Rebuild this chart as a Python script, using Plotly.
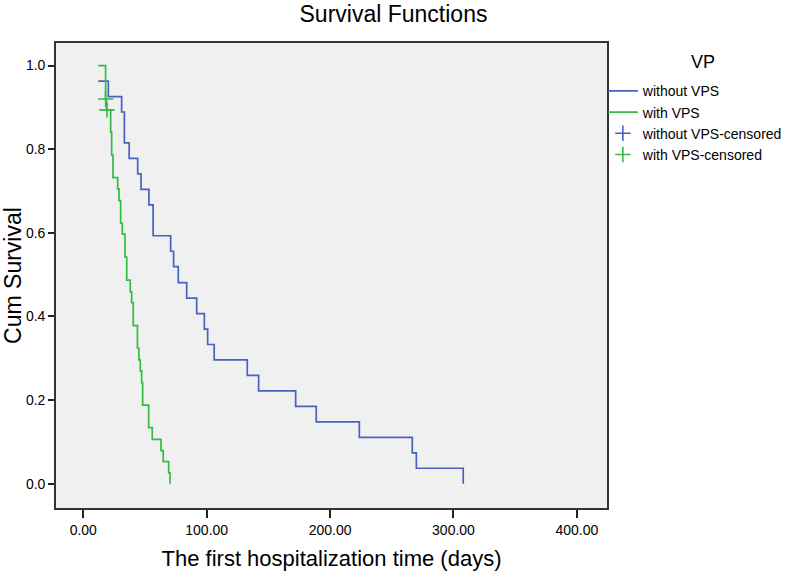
import plotly.graph_objects as go

# ---- data ----
blue_t = [12.2, 20.3, 31.1, 33.3, 37.2, 44.1, 46.8, 53.2, 56.6, 70.8, 73.2, 77.0, 83.8,
          91.9, 98.1, 100.8, 106.1, 132.9, 142.1, 172.1, 188.8, 223.7, 266.6, 269.9, 307.9]
blue_s = [0.963, 0.926, 0.889, 0.815, 0.778, 0.741, 0.704, 0.667, 0.593, 0.556, 0.519, 0.481,
          0.444, 0.407, 0.370, 0.333, 0.296, 0.259, 0.222, 0.185, 0.148, 0.111, 0.074, 0.037, 0.0]

green_t = [12.2, 18.1, 18.8, 22.2, 23.0, 24.1, 27.9, 28.9, 30.3, 31.6, 33.8, 35.2, 38.1,
           39.2, 40.5, 43.9, 45.1, 46.2, 47.3, 48.1, 53.0, 55.9, 63.0, 64.8, 69.2, 70.3]
green_s = [1.0, 0.920, 0.894, 0.841, 0.786, 0.732, 0.705, 0.677, 0.623, 0.597, 0.542, 0.487,
           0.459, 0.433, 0.378, 0.324, 0.296, 0.270, 0.242, 0.188, 0.134, 0.106, 0.079,
           0.053, 0.026, 0.0]

blue_cens_t = []
blue_cens_s = []
green_cens_t = [18.1, 19.2]
green_cens_s = [0.920, 0.894]

x_ticks = [0, 100, 200, 300, 400]
x_tick_labels = ["0.00", "100.00", "200.00", "300.00", "400.00"]
y_ticks = [0.0, 0.2, 0.4, 0.6, 0.8, 1.0]
y_tick_labels = ["0.0", "0.2", "0.4", "0.6", "0.8", "1.0"]

BLUE = "#4862C2"
GREEN = "#33BB44"
FONT = "Liberation Sans, Arial, sans-serif"

fig = go.Figure()
fig.add_trace(go.Scatter(x=blue_t, y=blue_s, mode="lines", line=dict(color=BLUE, width=1.7, shape="hv"),
                         name="without VPS"))
fig.add_trace(go.Scatter(x=green_t, y=green_s, mode="lines", line=dict(color=GREEN, width=1.7, shape="hv"),
                         name="with VPS"))
fig.add_trace(go.Scatter(x=blue_cens_t if blue_cens_t else [None], y=blue_cens_s if blue_cens_s else [None],
                         mode="markers",
                         marker=dict(symbol="cross-thin", size=11, color=BLUE, line=dict(width=1.6, color=BLUE)),
                         name="without VPS-censored"))
fig.add_trace(go.Scatter(x=green_cens_t, y=green_cens_s, mode="markers",
                         marker=dict(symbol="cross-thin", size=11, color=GREEN, line=dict(width=1.6, color=GREEN)),
                         name="with VPS-censored"))

fig.update_layout(
    width=787, height=574,
    margin=dict(l=56, r=180, t=43, b=66, autoexpand=False),
    paper_bgcolor="white", plot_bgcolor="#F0F0F0",
    font=dict(family=FONT, color="black", size=14),
    title=dict(text="Survival Functions", x=0.5, xanchor="center", y=0.975, yanchor="middle",
               font=dict(size=23, family=FONT, color="black")),
    showlegend=True,
    legend=dict(x=0.9925, xanchor="left", y=0.9305, yanchor="top", bgcolor="rgba(0,0,0,0)",
                font=dict(size=14, family=FONT), tracegroupgap=0),
    annotations=[dict(text="VP", xref="paper", yref="paper", x=(703 - 56) / 551, y=1 - (62 - 43) / 465,
                      xanchor="center", yanchor="middle", showarrow=False,
                      font=dict(size=18, family=FONT, color="black"))],
)
fig.update_xaxes(range=[-22.1, 424.4], tickvals=x_ticks, ticktext=x_tick_labels,
                 ticks="outside", ticklen=8, tickwidth=1.5, tickcolor="#222", automargin=False,
                 showgrid=False, zeroline=False, showline=True, linecolor="#333", linewidth=1.6, mirror=True,
                 tickfont=dict(size=14),
                 title=dict(text="The first hospitalization time (days)", font=dict(size=22), standoff=14))
fig.update_yaxes(range=[-0.058, 1.054], tickvals=y_ticks, ticktext=y_tick_labels,
                 ticks="outside", ticklen=6, tickwidth=1.5, tickcolor="#222", automargin=False,
                 showgrid=False, zeroline=False, showline=True, linecolor="#333", linewidth=1.6, mirror=True,
                 tickfont=dict(size=14),
                 title=dict(text="Cum Survival", font=dict(size=23), standoff=3))

fig.write_html("out.html", config={"displayModeBar": False},
               post_script="document.body.style.margin='0';document.body.style.overflow='hidden';")
